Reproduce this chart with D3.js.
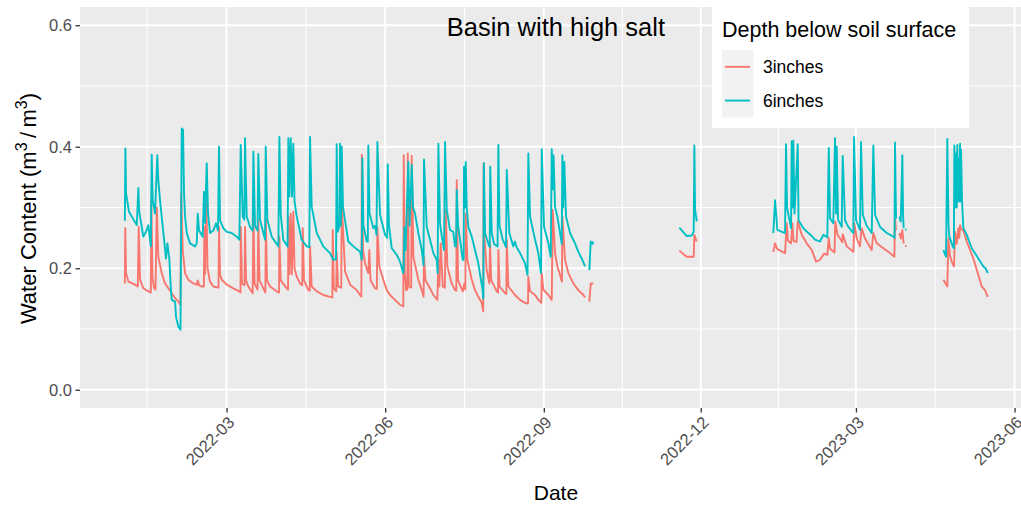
<!DOCTYPE html>
<html>
<head>
<meta charset="utf-8">
<script src="https://cdn.jsdelivr.net/npm/d3@7"></script>
<style>
  body { margin: 0; background: #ffffff; }
  svg { display: block; }
  text { font-family: "Liberation Sans", Arial, Helvetica, sans-serif; }
</style>
</head>
<body>
<svg id="chart" width="1021" height="505"></svg>
<script>
// ---- data -------------------------------------------------------------
const chartTitle = "Basin with high salt";
const legendTitle = "Depth below soil surface";
const seriesNames = ["3inches", "6inches"];
const seriesColors = ["#F8766D", "#00BFC4"];
const yTickValues = [0, 0.2, 0.4, 0.6];
const yMinorValues = [0.1, 0.3, 0.5];
const xTickLabels = ["2022-03", "2022-06", "2022-09", "2022-12", "2023-03", "2023-06"];

// volumetric water content, 3 inches below surface (null = logger gap)
const depth3 = [
  ["2022-01-01 00",0.175],["2022-01-01 06",0.266],["2022-01-01 17",0.192],["2022-01-03 01",0.178],
  ["2022-01-06 22",0.173],["2022-01-08 13",0.170],["2022-01-09 01",0.268],["2022-01-09 20",0.181],
  ["2022-01-11 18",0.167],["2022-01-14 15",0.162],["2022-01-16 02",0.160],["2022-01-16 09",0.312],
  ["2022-01-17 01",0.185],["2022-01-17 22",0.168],["2022-01-18 19",0.165],["2022-01-19 13",0.300],
  ["2022-01-20 10",0.219],["2022-01-22 10",0.192],["2022-01-24 07",0.175],["2022-01-26 06",0.167],
  ["2022-01-28 05",0.159],["2022-01-30 03",0.151],["2022-02-01 01",0.145],["2022-02-02 05",0.140],
  ["2022-02-02 17",0.323],["2022-02-03 14",0.230],["2022-02-04 22",0.192],["2022-02-06 20",0.181],
  ["2022-02-09 18",0.175],["2022-02-11 17",0.173],["2022-02-12 07",0.180],["2022-02-13 01",0.172],
  ["2022-02-14 14",0.170],["2022-02-15 20",0.170],["2022-02-16 03",0.268],["2022-02-16 12",0.190],
  ["2022-02-17 06",0.312],["2022-02-17 23",0.200],["2022-02-19 10",0.178],["2022-02-21 08",0.170],
  ["2022-02-24 08",0.168],["2022-02-24 15",0.268],["2022-02-25 05",0.190],["2022-02-26 05",0.181],
  ["2022-03-01 02",0.173],["2022-03-04 22",0.167],["2022-03-08 10",0.162],["2022-03-09 02",0.160],
  ["2022-03-09 06",0.268],["2022-03-09 23",0.175],["2022-03-11 10",0.172],["2022-03-11 17",0.268],
  ["2022-03-12 07",0.180],["2022-03-13 15",0.170],["2022-03-16 04",0.159],["2022-03-16 13",0.296],
  ["2022-03-17 06",0.175],["2022-03-18 23",0.165],["2022-03-19 10",0.279],["2022-03-20 03",0.180],
  ["2022-03-22 08",0.167],["2022-03-23 12",0.160],["2022-03-23 19",0.280],["2022-03-24 11",0.180],
  ["2022-03-26 05",0.170],["2022-03-30 02",0.162],["2022-03-31 10",0.160],["2022-03-31 15",0.252],
  ["2022-04-01 10",0.180],["2022-04-04 22",0.167],["2022-04-05 16",0.165],["2022-04-05 20",0.285],
  ["2022-04-06 10",0.190],["2022-04-07 05",0.290],["2022-04-07 20",0.190],["2022-04-08 17",0.293],
  ["2022-04-09 10",0.200],["2022-04-10 17",0.186],["2022-04-12 15",0.175],["2022-04-13 21",0.172],
  ["2022-04-14 04",0.266],["2022-04-14 22",0.180],["2022-04-17 10",0.164],["2022-04-18 06",0.163],
  ["2022-04-18 10",0.236],["2022-04-19 09",0.170],["2022-04-22 07",0.162],["2022-04-26 03",0.156],
  ["2022-04-30 00",0.153],["2022-05-01 08",0.152],["2022-05-01 14",0.263],["2022-05-02 05",0.167],
  ["2022-05-03 14",0.162],["2022-05-03 21",0.226],["2022-05-04 16",0.170],["2022-05-06 12",0.168],
  ["2022-05-06 19",0.307],["2022-05-08 17",0.195],["2022-05-11 15",0.173],["2022-05-15 12",0.164],
  ["2022-05-18 04",0.153],["2022-05-18 11",0.387],["2022-05-19 03",0.230],["2022-05-20 07",0.208],
  ["2022-05-22 05",0.192],["2022-05-22 19",0.230],["2022-05-23 12",0.180],["2022-05-26 03",0.167],
  ["2022-05-27 04",0.166],["2022-05-27 11",0.268],["2022-05-28 14",0.203],["2022-05-30 22",0.181],
  ["2022-06-01 21",0.164],["2022-06-03 19",0.156],["2022-06-06 17",0.148],["2022-06-09 14",0.140],
  ["2022-06-11 12",0.137],["2022-06-11 18",0.386],["2022-06-12 09",0.192],["2022-06-13 02",0.164],
  ["2022-06-13 20",0.165],["2022-06-14 02",0.389],["2022-06-14 17",0.170],["2022-06-16 02",0.168],
  ["2022-06-16 09",0.385],["2022-06-17 08",0.219],["2022-06-20 05",0.181],["2022-06-22 05",0.164],
  ["2022-06-23 06",0.153],["2022-06-23 12",0.219],["2022-06-24 09",0.180],["2022-06-27 00",0.167],
  ["2022-06-28 22",0.156],["2022-07-01 06",0.148],["2022-07-01 20",0.214],["2022-07-02 10",0.170],
  ["2022-07-03 05",0.241],["2022-07-04 09",0.170],["2022-07-05 14",0.168],["2022-07-06 03",0.296],
  ["2022-07-07 01",0.203],["2022-07-09 14",0.175],["2022-07-11 12",0.164],["2022-07-12 06",0.163],
  ["2022-07-12 12",0.345],["2022-07-13 06",0.180],["2022-07-15 23",0.162],["2022-07-16 21",0.175],
  ["2022-07-17 11",0.165],["2022-07-17 17",0.290],["2022-07-18 15",0.214],["2022-07-21 05",0.181],
  ["2022-07-23 02",0.164],["2022-07-25 00",0.153],["2022-07-27 00",0.143],["2022-07-27 20",0.129],
  ["2022-07-28 02",0.373],["2022-07-28 15",0.247],["2022-07-29 21",0.197],["2022-07-31 10",0.175],
  ["2022-07-31 19",0.241],["2022-08-01 12",0.180],["2022-08-04 17",0.162],["2022-08-05 11",0.160],
  ["2022-08-05 15",0.230],["2022-08-06 07",0.170],["2022-08-09 12",0.159],["2022-08-10 06",0.158],
  ["2022-08-10 12",0.247],["2022-08-11 10",0.170],["2022-08-15 07",0.156],["2022-08-18 05",0.148],
  ["2022-08-21 02",0.143],["2022-08-22 20",0.142],["2022-08-23 00",0.186],["2022-08-24 00",0.162],
  ["2022-08-26 22",0.156],["2022-08-28 19",0.148],["2022-08-30 13",0.143],["2022-08-30 19",0.192],
  ["2022-08-31 17",0.165],["2022-09-03 15",0.156],["2022-09-05 14",0.148],["2022-09-06 04",0.296],
  ["2022-09-07 12",0.225],["2022-09-08 20",0.203],["2022-09-10 10",0.189],["2022-09-11 12",0.178],
  ["2022-09-11 18",0.285],["2022-09-13 07",0.214],["2022-09-15 05",0.192],["2022-09-18 03",0.175],
  ["2022-09-21 00",0.164],["2022-09-23 22",0.156],["2022-09-24 22",0.152],["2022-09-26 00",null],
  ["2022-09-27 09",0.145],["2022-09-28 05",0.175],["2022-09-29 17",0.175],["2022-10-30 00",null],
  ["2022-11-18 14",0.229],["2022-11-22 21",0.219],["2022-11-26 22",0.219],["2022-11-27 07",0.255],
  ["2022-11-28 16",0.244],["2022-12-20 00",null],
  ["2023-01-12 02",0.227],["2023-01-13 02",0.241],["2023-01-14 06",0.232],["2023-01-18 21",0.225],
  ["2023-01-19 21",0.274],["2023-01-20 15",0.245],["2023-01-22 09",0.241],["2023-01-23 03",0.274],
  ["2023-01-23 19",0.245],["2023-01-25 13",0.243],["2023-01-26 06",0.277],["2023-01-28 14",0.255],
  ["2023-01-31 11",0.241],["2023-02-03 09",0.230],["2023-02-05 21",0.211],["2023-02-08 04",0.214],
  ["2023-02-10 12",0.224],["2023-02-12 10",0.222],["2023-02-13 06",0.250],["2023-02-14 00",0.232],
  ["2023-02-16 14",0.226],["2023-02-17 01",0.277],["2023-02-18 08",0.255],["2023-02-19 19",0.249],
  ["2023-02-21 03",0.243],["2023-02-21 08",0.256],["2023-02-23 16",0.236],["2023-02-27 12",0.227],
  ["2023-02-28 02",0.274],["2023-03-01 11",0.249],["2023-03-03 09",0.236],["2023-03-04 06",0.266],
  ["2023-03-06 07",0.249],["2023-03-10 04",0.230],["2023-03-11 02",0.258],["2023-03-13 02",0.241],
  ["2023-03-16 22",0.233],["2023-03-20 19",0.225],["2023-03-23 07",0.219],["2023-03-23 16",0.282],
  ["2023-03-24 06",0.263],["2023-03-25 00",null],["2023-03-26 04",0.258],["2023-03-27 00",0.249],
  ["2023-03-27 22",0.263],["2023-03-28 16",0.241],["2023-03-29 00",null],["2023-03-29 12",0.237],
  ["2023-03-30 08",0.236],["2023-04-10 00",null],
  ["2023-04-20 17",0.181],["2023-04-23 00",0.170],["2023-04-23 14",0.249],["2023-04-24 14",0.220],
  ["2023-04-25 13",0.211],["2023-04-26 21",0.203],["2023-04-27 11",0.260],["2023-04-28 11",0.240],
  ["2023-04-29 09",0.266],["2023-04-29 23",0.250],["2023-04-30 09",0.271],["2023-04-30 23",0.265],
  ["2023-05-02 07",0.262],["2023-05-04 06",0.244],["2023-05-08 02",0.216],["2023-05-11 00",0.189],
  ["2023-05-12 23",0.170],["2023-05-14 21",0.164],["2023-05-16 11",0.153]
];

// volumetric water content, 6 inches below surface (null = logger gap)
const depth6 = [
  ["2022-01-01 00",0.278],["2022-01-01 08",0.397],["2022-01-01 17",0.323],["2022-01-03 10",0.293],
  ["2022-01-07 22",0.271],["2022-01-08 20",0.332],["2022-01-09 08",0.293],["2022-01-11 18",0.252],
  ["2022-01-13 14",0.262],["2022-01-14 15",0.271],["2022-01-16 02",0.236],["2022-01-16 14",0.387],
  ["2022-01-17 04",0.312],["2022-01-18 12",0.290],["2022-01-19 20",0.386],["2022-01-20 10",0.345],
  ["2022-01-21 10",0.312],["2022-01-23 18",0.247],["2022-01-24 21",0.216],["2022-01-25 16",0.241],
  ["2022-01-26 19",0.216],["2022-01-27 15",0.170],["2022-01-28 05",0.148],["2022-01-30 03",0.145],
  ["2022-01-30 17",0.120],["2022-02-01 01",0.104],["2022-02-02 07",0.099],["2022-02-03 00",0.430],
  ["2022-02-03 18",0.428],["2022-02-04 08",0.323],["2022-02-04 22",0.285],["2022-02-05 22",0.258],
  ["2022-02-07 19",0.241],["2022-02-10 17",0.236],["2022-02-11 17",0.241],["2022-02-12 07",0.290],
  ["2022-02-13 01",0.262],["2022-02-15 04",0.252],["2022-02-15 22",0.326],["2022-02-16 12",0.275],
  ["2022-02-17 12",0.373],["2022-02-18 06",0.290],["2022-02-19 10",0.258],["2022-02-21 08",0.262],
  ["2022-02-22 21",0.274],["2022-02-24 01",0.262],["2022-02-24 15",0.400],["2022-02-25 05",0.279],
  ["2022-02-27 03",0.266],["2022-03-01 02",0.260],["2022-03-04 00",0.258],["2022-03-06 22",0.252],
  ["2022-03-08 10",0.247],["2022-03-09 05",0.403],["2022-03-10 09",0.285],["2022-03-11 07",0.280],
  ["2022-03-11 17",0.414],["2022-03-12 17",0.285],["2022-03-14 15",0.268],["2022-03-16 04",0.262],
  ["2022-03-16 13",0.392],["2022-03-17 12",0.270],["2022-03-18 23",0.262],["2022-03-19 10",0.388],
  ["2022-03-20 10",0.280],["2022-03-22 08",0.258],["2022-03-23 08",0.247],["2022-03-23 17",0.400],
  ["2022-03-24 16",0.280],["2022-03-27 05",0.252],["2022-03-31 01",0.236],["2022-03-31 15",0.416],
  ["2022-04-01 10",0.288],["2022-04-02 22",0.247],["2022-04-05 09",0.236],["2022-04-05 20",0.414],
  ["2022-04-06 10",0.318],["2022-04-07 05",0.414],["2022-04-07 23",0.318],["2022-04-08 17",0.405],
  ["2022-04-09 10",0.310],["2022-04-10 17",0.285],["2022-04-13 14",0.247],["2022-04-16 12",0.236],
  ["2022-04-18 00",0.235],["2022-04-18 10",0.416],["2022-04-19 09",0.301],["2022-04-22 07",0.258],
  ["2022-04-26 03",0.236],["2022-04-30 00",0.225],["2022-05-01 22",0.214],["2022-05-03 12",0.215],
  ["2022-05-03 21",0.404],["2022-05-04 11",0.260],["2022-05-05 12",0.270],["2022-05-05 19",0.405],
  ["2022-05-06 06",0.270],["2022-05-06 19",0.400],["2022-05-07 13",0.300],["2022-05-10 15",0.244],
  ["2022-05-13 12",0.236],["2022-05-17 10",0.227],["2022-05-18 10",0.214],["2022-05-18 18",0.381],
  ["2022-05-19 08",0.271],["2022-05-21 07",0.244],["2022-05-21 22",0.244],["2022-05-22 05",0.402],
  ["2022-05-22 22",0.290],["2022-05-25 03",0.266],["2022-05-26 03",0.270],["2022-05-26 23",0.255],
  ["2022-05-27 11",0.408],["2022-05-29 00",0.288],["2022-05-31 22",0.255],["2022-06-02 04",0.250],
  ["2022-06-02 11",0.371],["2022-06-03 05",0.270],["2022-06-04 19",0.233],["2022-06-07 17",0.222],
  ["2022-06-09 14",0.211],["2022-06-11 12",0.192],["2022-06-11 15",0.195],["2022-06-12 05",0.268],
  ["2022-06-12 19",0.230],["2022-06-14 10",0.375],["2022-06-15 03",0.270],["2022-06-16 09",0.370],
  ["2022-06-17 04",0.300],["2022-06-18 07",0.290],["2022-06-20 05",0.258],["2022-06-22 05",0.230],
  ["2022-06-23 06",0.205],["2022-06-23 12",0.379],["2022-06-25 02",0.268],["2022-06-27 00",0.247],
  ["2022-06-28 22",0.225],["2022-06-30 21",0.214],["2022-07-01 10",0.192],["2022-07-01 20",0.405],
  ["2022-07-02 19",0.274],["2022-07-03 23",0.250],["2022-07-05 03",0.230],["2022-07-05 17",0.408],
  ["2022-07-06 17",0.296],["2022-07-08 14",0.263],["2022-07-10 12",0.260],["2022-07-11 12",0.236],
  ["2022-07-12 02",0.236],["2022-07-12 12",0.329],["2022-07-13 06",0.270],["2022-07-14 10",0.247],
  ["2022-07-15 23",0.214],["2022-07-16 12",0.214],["2022-07-16 17",0.367],["2022-07-17 07",0.300],
  ["2022-07-17 17",0.375],["2022-07-18 07",0.300],["2022-07-19 05",0.268],["2022-07-21 05",0.252],
  ["2022-07-23 02",0.230],["2022-07-25 00",0.208],["2022-07-26 00",0.190],["2022-07-27 11",0.165],
  ["2022-07-27 22",0.150],["2022-07-28 05",0.373],["2022-07-28 22",0.258],["2022-07-30 20",0.240],
  ["2022-07-31 15",0.235],["2022-07-31 22",0.367],["2022-08-01 19",0.258],["2022-08-03 03",0.240],
  ["2022-08-05 04",0.236],["2022-08-05 15",0.403],["2022-08-06 07",0.270],["2022-08-08 04",0.247],
  ["2022-08-10 02",0.235],["2022-08-10 12",0.362],["2022-08-12 00",0.258],["2022-08-14 07",0.236],
  ["2022-08-15 07",0.244],["2022-08-16 04",0.235],["2022-08-18 05",0.225],["2022-08-21 02",0.208],
  ["2022-08-22 13",0.189],["2022-08-23 00",0.389],["2022-08-24 00",0.285],["2022-08-26 22",0.247],
  ["2022-08-28 19",0.225],["2022-08-30 09",0.192],["2022-08-30 19",0.396],["2022-09-01 03",0.268],
  ["2022-09-03 15",0.241],["2022-09-05 00",0.219],["2022-09-05 14",0.396],["2022-09-06 05",0.330],
  ["2022-09-06 15",0.386],["2022-09-07 12",0.301],["2022-09-08 20",0.285],["2022-09-10 10",0.258],
  ["2022-09-11 09",0.240],["2022-09-11 18",0.386],["2022-09-12 06",0.300],["2022-09-12 21",0.375],
  ["2022-09-13 21",0.285],["2022-09-16 05",0.258],["2022-09-19 02",0.241],["2022-09-21 00",0.227],
  ["2022-09-23 00",0.216],["2022-09-24 22",0.203],["2022-09-26 00",null],["2022-09-27 09",0.197],
  ["2022-09-28 05",0.244],["2022-09-29 06",0.240],["2022-09-29 17",0.244],["2022-10-30 00",null],
  ["2022-11-18 14",0.267],["2022-11-22 21",0.253],["2022-11-25 18",0.254],["2022-11-26 22",0.260],
  ["2022-11-27 07",0.402],["2022-11-27 17",0.296],["2022-11-28 16",0.277],["2022-12-20 00",null],
  ["2023-01-12 02",0.258],["2023-01-13 02",0.312],["2023-01-14 10",0.263],["2023-01-18 21",0.258],
  ["2023-01-19 11",0.404],["2023-01-20 01",0.300],["2023-01-22 09",0.266],["2023-01-22 18",0.409],
  ["2023-01-23 06",0.300],["2023-01-23 17",0.410],["2023-01-24 09",0.290],["2023-01-26 06",0.404],
  ["2023-01-26 17",0.279],["2023-01-29 12",0.266],["2023-01-31 15",0.260],["2023-02-03 09",0.253],
  ["2023-02-05 07",0.247],["2023-02-08 04",0.244],["2023-02-10 02",0.255],["2023-02-12 10",0.251],
  ["2023-02-13 06",0.398],["2023-02-14 00",0.282],["2023-02-15 21",0.274],["2023-02-16 21",0.414],
  ["2023-02-17 11",0.290],["2023-02-17 21",0.400],["2023-02-18 15",0.280],["2023-02-20 18",0.268],
  ["2023-02-21 08",0.385],["2023-02-22 16",0.279],["2023-02-24 14",0.268],["2023-02-27 12",0.258],
  ["2023-02-27 22",0.416],["2023-03-01 01",0.279],["2023-03-03 09",0.263],["2023-03-03 23",0.408],
  ["2023-03-04 23",0.288],["2023-03-07 06",0.270],["2023-03-10 04",0.258],["2023-03-11 02",0.402],
  ["2023-03-12 02",0.288],["2023-03-15 00",0.268],["2023-03-18 21",0.258],["2023-03-22 17",0.252],
  ["2023-03-23 09",0.250],["2023-03-23 16",0.407],["2023-03-24 06",0.282],["2023-03-25 00",null],
  ["2023-03-26 04",0.285],["2023-03-27 00",0.277],["2023-03-27 22",0.386],["2023-03-28 08",0.288],
  ["2023-03-28 16",0.266],["2023-03-29 00",null],["2023-03-29 12",0.263],["2023-03-30 08",0.264],
  ["2023-04-10 00",null],
  ["2023-04-20 17",0.230],["2023-04-22 06",0.219],["2023-04-23 00",0.413],["2023-04-23 17",0.270],
  ["2023-04-24 04",0.252],["2023-04-26 03",0.236],["2023-04-26 19",0.233],["2023-04-27 02",0.402],
  ["2023-04-27 11",0.300],["2023-04-28 01",0.389],["2023-04-28 11",0.300],["2023-04-28 19",0.403],
  ["2023-04-29 05",0.310],["2023-04-29 15",0.380],["2023-04-29 23",0.310],["2023-04-30 09",0.405],
  ["2023-04-30 16",0.310],["2023-04-30 23",0.395],["2023-05-01 13",0.310],["2023-05-02 07",0.266],
  ["2023-05-04 06",0.255],["2023-05-07 04",0.233],["2023-05-11 00",0.216],["2023-05-13 21",0.203],
  ["2023-05-15 04",0.200],["2023-05-16 11",0.192]
];

// ---- layout -----------------------------------------------------------
const W = 1021, H = 505;
const panelLeft = 80, panelTop = 7, panelBottom = 408;
const pxPerDay = 1.7243;
const parseTime = d3.utcParse("%Y-%m-%d %H");
const parseMonth = d3.utcParse("%Y-%m");

const xStart = new Date(Date.UTC(2021, 11, 6));
const xEnd = new Date(Date.UTC(2023, 5, 11));
const spanDays = (xEnd - xStart) / 864e5;
const x = d3.scaleUtc().domain([xStart, xEnd]).range([panelLeft, panelLeft + spanDays * pxPerDay]);
const y = d3.scaleLinear().domain([-0.03, 0.63]).range([panelBottom, panelTop]);
const panelRight = x.range()[1];
const panelMid = (panelLeft + panelRight) / 2;

const svg = d3.select("#chart");
const font = '"Liberation Sans", Arial, Helvetica, sans-serif';

svg.append("rect").attr("width", W).attr("height", H).attr("fill", "#ffffff");

// panel background
svg.append("rect")
  .attr("x", panelLeft).attr("y", panelTop)
  .attr("width", panelRight - panelLeft).attr("height", panelBottom - panelTop)
  .attr("fill", "#EBEBEB");

// gridlines: minor breaks sit halfway between the major ones
const majorDates = xTickLabels.map(parseMonth);
const minorDates = [];
{
  const ext = [new Date(+majorDates[0] - (majorDates[1] - majorDates[0]))].concat(majorDates);
  for (let i = 0; i < ext.length - 1; i++) minorDates.push(new Date((+ext[i] + +ext[i + 1]) / 2));
}
const grid = svg.append("g");
grid.selectAll(".ymin").data(yMinorValues).join("line")
  .attr("x1", panelLeft).attr("x2", panelRight)
  .attr("y1", d => y(d)).attr("y2", d => y(d))
  .attr("stroke", "#ffffff").attr("stroke-width", 1);
grid.selectAll(".xmin").data(minorDates).join("line")
  .attr("x1", d => x(d)).attr("x2", d => x(d))
  .attr("y1", panelTop).attr("y2", panelBottom)
  .attr("stroke", "#ffffff").attr("stroke-width", 1);
grid.selectAll(".ymaj").data(yTickValues).join("line")
  .attr("x1", panelLeft).attr("x2", panelRight)
  .attr("y1", d => y(d)).attr("y2", d => y(d))
  .attr("stroke", "#ffffff").attr("stroke-width", 1.9);
grid.selectAll(".xmaj").data(majorDates).join("line")
  .attr("x1", d => x(d)).attr("x2", d => x(d))
  .attr("y1", panelTop).attr("y2", panelBottom)
  .attr("stroke", "#ffffff").attr("stroke-width", 1.9);

// series lines
const toPoints = arr => arr.map(([t, v]) => ({ t: parseTime(t), v }));
const line = d3.line()
  .defined(d => d.v !== null)
  .x(d => x(d.t))
  .y(d => y(d.v));

const series = [toPoints(depth3), toPoints(depth6)];
svg.append("clipPath").attr("id", "panelClip")
  .append("rect").attr("x", panelLeft).attr("y", panelTop)
  .attr("width", panelRight - panelLeft).attr("height", panelBottom - panelTop);
const lines = svg.append("g").attr("clip-path", "url(#panelClip)");
series.forEach((pts, i) => {
  lines.append("path")
    .datum(pts)
    .attr("d", line)
    .attr("fill", "none")
    .attr("stroke", seriesColors[i])
    .attr("stroke-width", 1.9)
    .attr("stroke-linejoin", "round")
    .attr("stroke-linecap", "butt");
});

// title inside panel
svg.append("text")
  .attr("x", panelMid).attr("y", 36)
  .attr("text-anchor", "middle")
  .attr("font-size", 25.5)
  .attr("fill", "#000000")
  .text(chartTitle);

// axes
const yAxis = d3.axisLeft(y).tickValues(yTickValues).tickFormat(d3.format(".1f"))
  .tickSize(4.5).tickPadding(3.5);
const gy = svg.append("g").attr("transform", `translate(${panelLeft},0)`).call(yAxis);
gy.select(".domain").remove();
gy.selectAll(".tick line").attr("stroke", "#333333").attr("stroke-width", 1.3);
gy.selectAll(".tick text").attr("fill", "#4D4D4D").attr("font-size", 16.5).attr("font-family", font);

const xAxis = d3.axisBottom(x).tickValues(majorDates).tickFormat(d3.utcFormat("%Y-%m"))
  .tickSize(4.5);
const gx = svg.append("g").attr("transform", `translate(0,${panelBottom})`).call(xAxis);
gx.select(".domain").remove();
gx.selectAll(".tick line").attr("stroke", "#333333").attr("stroke-width", 1.3);
gx.selectAll(".tick text")
  .attr("fill", "#4D4D4D").attr("font-size", 16.5).attr("font-family", font)
  .attr("x", 0).attr("y", 0).attr("dy", 0)
  .attr("text-anchor", "end")
  .attr("transform", "translate(8.5,15.5) rotate(-45)");

// axis titles
svg.append("text")
  .attr("x", panelMid).attr("y", 500)
  .attr("text-anchor", "middle").attr("font-size", 21).attr("fill", "#000000")
  .text("Date");

const yTitle = svg.append("text")
  .attr("transform", `translate(36,${(panelTop + panelBottom) / 2 + 1}) rotate(-90)`)
  .attr("text-anchor", "middle").attr("font-size", 22).attr("fill", "#000000");
yTitle.append("tspan").text("Water Content (m");
yTitle.append("tspan").attr("dy", -9).attr("font-size", 16).text("3");
yTitle.append("tspan").attr("dy", 9).text("\u2009/\u2009m");
yTitle.append("tspan").attr("dy", -9).attr("font-size", 16).text("3");
yTitle.append("tspan").attr("dy", 9).text(")");

// legend
const legend = svg.append("g");
legend.append("rect")
  .attr("x", 712).attr("y", 6).attr("width", 257).attr("height", 122)
  .attr("fill", "#ffffff");
legend.append("text")
  .attr("x", 722).attr("y", 37)
  .attr("font-size", 21.5).attr("fill", "#000000")
  .text(legendTitle);
const keyH = 33.7;
seriesNames.forEach((name, i) => {
  const ky = 50 + i * keyH;
  legend.append("rect")
    .attr("x", 722).attr("y", ky).attr("width", 31.5).attr("height", keyH)
    .attr("fill", "#F2F2F2");
  legend.append("line")
    .attr("x1", 725).attr("x2", 750)
    .attr("y1", ky + keyH / 2).attr("y2", ky + keyH / 2)
    .attr("stroke", seriesColors[i]).attr("stroke-width", 1.9);
  legend.append("text")
    .attr("x", 763).attr("y", ky + keyH / 2).attr("dy", "0.35em")
    .attr("font-size", 17.5).attr("fill", "#000000")
    .text(name);
});
</script>
</body>
</html>
